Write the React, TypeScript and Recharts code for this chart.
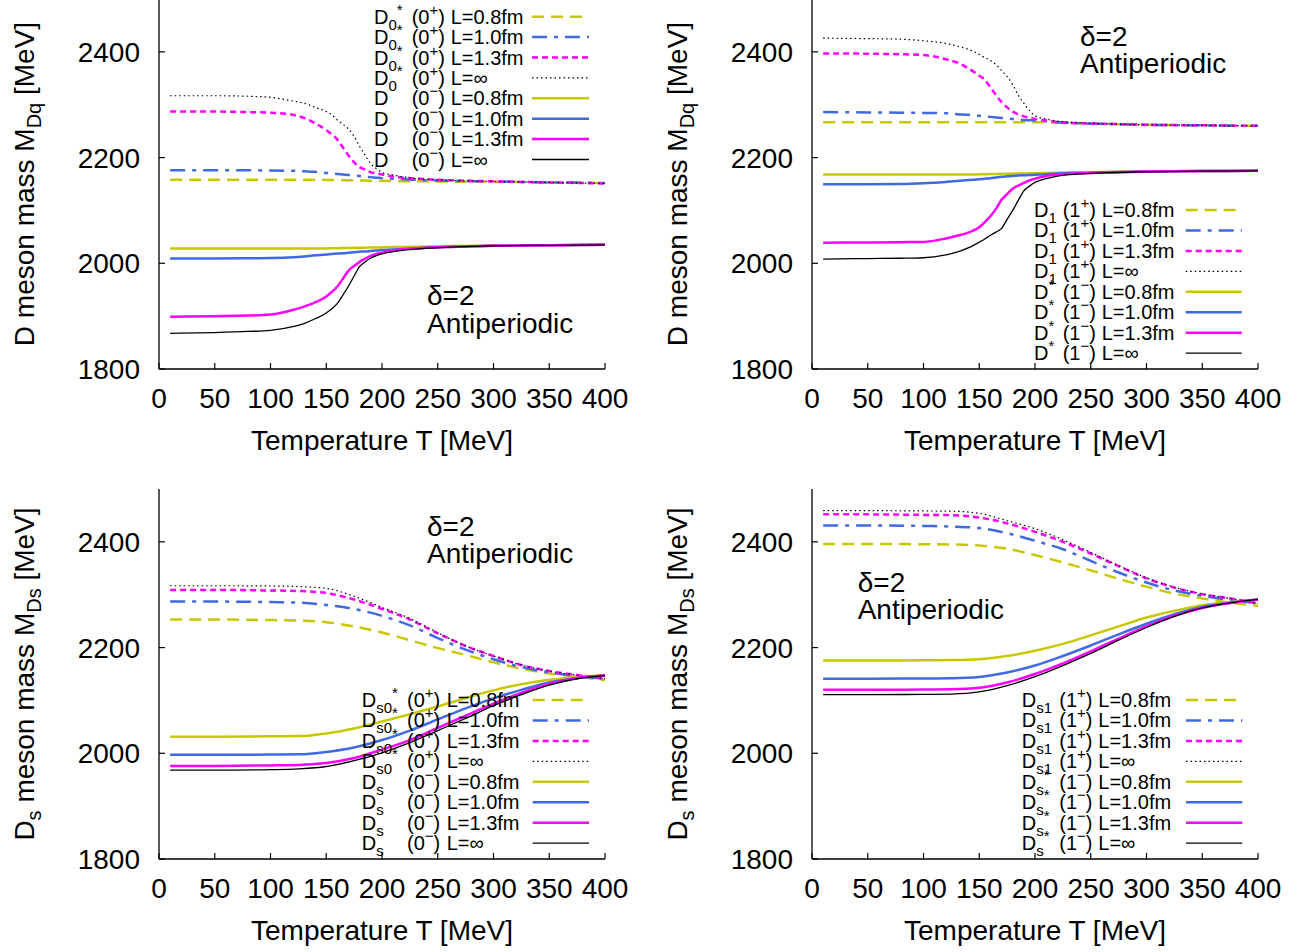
import React from 'react';
import { LineChart, Line, XAxis, YAxis, Legend, Customized } from 'recharts';

const FONT = '"Liberation Sans", Arial, Helvetica, sans-serif';

// ---------- data ----------
const xTicks = [0, 50, 100, 150, 200, 250, 300, 350, 400];
const yTicks = [1800, 2000, 2200, 2400];

// sharp-transition panels (D mesons)
const tempsSharp = [10, 50, 80, 100, 120, 130, 140, 150, 155, 160, 165, 170, 175, 180, 185, 190, 195, 200, 210, 220, 240, 260, 300, 350, 400];

// top-left: D0* (0+) and D (0-)
const d0pL08 = [2158, 2158, 2158, 2158, 2158, 2158, 2158, 2157.8, 2157.6, 2157.4, 2157.2, 2157, 2156.8, 2156.6, 2156.4, 2156.2, 2156, 2156, 2155.6, 2155.3, 2155, 2154.5, 2154, 2153, 2152];
const d0pL10 = [2176, 2176, 2176, 2175.5, 2175, 2174, 2173, 2171, 2170, 2169, 2168, 2167, 2166, 2165, 2164, 2163, 2162, 2161, 2160, 2159, 2157, 2156, 2155, 2153, 2152];
const d0pL13 = [2287, 2287, 2286, 2285, 2281, 2275, 2265, 2252, 2244, 2234, 2219, 2204, 2191, 2182, 2177, 2172, 2170, 2168, 2164, 2162, 2159, 2157, 2155, 2153, 2151];
const d0pInf = [2317, 2317, 2316, 2314, 2307, 2303, 2295, 2287, 2281, 2271, 2263, 2254, 2240, 2221, 2204, 2188, 2179, 2172, 2167, 2163, 2159, 2157, 2155, 2153, 2151];
const d0mL08 = [2028, 2028, 2028, 2028, 2028, 2028, 2028, 2028.2, 2028.4, 2028.6, 2028.8, 2029, 2029.2, 2029.4, 2029.6, 2029.8, 2030, 2030.2, 2030.6, 2031, 2031.8, 2032.5, 2033.5, 2034.3, 2035];
const d0mL10 = [2009, 2009, 2009.5, 2010, 2011.5, 2013, 2015, 2016.5, 2017.5, 2018.3, 2019, 2020, 2021, 2022, 2022.5, 2023.3, 2024, 2025, 2026, 2027, 2029.5, 2031, 2033, 2034, 2035];
const d0mL13 = [1899, 1900, 1901, 1903, 1911.6, 1918, 1926, 1937, 1946, 1956, 1971, 1986, 1995, 2003, 2009, 2014, 2017.6, 2020, 2024, 2027, 2029.5, 2031, 2033, 2034, 2035];
const d0mInf = [1867.5, 1869, 1871, 1873, 1880, 1886, 1895, 1906, 1914, 1924, 1940, 1957, 1976, 1994, 2003, 2010, 2014.5, 2018, 2022, 2025, 2028.5, 2030.5, 2033, 2034, 2035];

// top-right: D1 (1+) and D* (1-)
const d1pL08 = [2267, 2267, 2267, 2267, 2267, 2267, 2267, 2267, 2267, 2267, 2267, 2267, 2267, 2267, 2267, 2267, 2267, 2267, 2266.5, 2266, 2265, 2264, 2262, 2261, 2260];
const d1pL10 = [2286, 2285.5, 2285, 2284.5, 2284, 2282, 2281, 2279, 2278, 2277, 2276, 2275, 2274, 2273, 2272, 2271, 2270.5, 2270, 2268.5, 2267, 2265, 2264, 2262, 2261, 2260];
const d1pL13 = [2397, 2396.5, 2395.5, 2394, 2386, 2380, 2369, 2355, 2347, 2333, 2318, 2305, 2295, 2287, 2282, 2278, 2275, 2273, 2270, 2267, 2265, 2264, 2262, 2261, 2260];
const d1pInf = [2426, 2425, 2424, 2421, 2416, 2411, 2405, 2395, 2389, 2384, 2376, 2365, 2353, 2338, 2318, 2303, 2289, 2279, 2273, 2269, 2266, 2264, 2262, 2261, 2260];
const d1mL08 = [2168, 2168, 2168, 2168, 2168, 2168, 2168, 2168.3, 2168.5, 2168.7, 2169, 2169.2, 2169.4, 2169.6, 2169.8, 2170, 2170.2, 2170.4, 2170.8, 2171.2, 2172, 2172.8, 2174, 2174.6, 2175];
const d1mL10 = [2149.5, 2149.5, 2150, 2151.5, 2154, 2155.5, 2157.5, 2159, 2160, 2161, 2162.5, 2163.5, 2164.5, 2165.3, 2166, 2166.5, 2167, 2167.5, 2168.5, 2170, 2171, 2172, 2173.5, 2174.5, 2175];
const d1mL13 = [2039, 2039.5, 2040, 2040.5, 2047, 2052, 2058, 2068, 2078, 2089, 2103, 2120, 2131, 2141, 2147, 2152, 2157, 2160, 2165, 2168, 2170.5, 2172, 2173.5, 2174.5, 2175];
const d1mInf = [2008, 2009, 2009.5, 2010.5, 2016, 2021, 2029, 2040, 2046, 2053, 2059, 2066, 2083, 2100, 2119, 2137, 2146, 2153, 2160, 2165, 2169, 2171, 2173, 2174.5, 2175];

// smooth panels (Ds mesons)
const tempsSmooth = [10, 50, 100, 125, 150, 175, 200, 225, 250, 275, 300, 325, 350, 375, 400];

// bottom-left: Ds0* (0+) and Ds (0-)
const ds0pL08 = [2253, 2253, 2252, 2251, 2248, 2240, 2228.5, 2214, 2199, 2186, 2172, 2160, 2151, 2145, 2138];
const ds0pL10 = [2287, 2287, 2286, 2285, 2280.5, 2273, 2260, 2242, 2218, 2196, 2178, 2163, 2153, 2146, 2141];
const ds0pL13 = [2309, 2309, 2308, 2307, 2303, 2291, 2273, 2253, 2227, 2203, 2184, 2167, 2155.5, 2148, 2141];
const ds0pInf = [2317, 2317, 2316.5, 2315.5, 2312, 2297, 2276, 2255, 2228, 2203, 2184, 2167, 2155.5, 2148, 2141];
const ds0mL08 = [2031.5, 2031.5, 2032, 2032.5, 2037.5, 2047, 2060, 2074, 2088.5, 2104.5, 2119, 2130.5, 2139, 2144, 2148];
const ds0mL10 = [1997, 1997, 1997.5, 1998, 2002.5, 2011, 2025, 2043, 2064, 2085, 2104, 2120, 2134, 2142, 2147];
const ds0mL13 = [1976, 1976, 1977, 1978, 1981.5, 1991, 2007, 2025, 2048, 2071, 2094, 2114, 2131, 2143, 2147];
const ds0mInf = [1968, 1968, 1969, 1970.5, 1975, 1986, 2001, 2020, 2043, 2066, 2090, 2111, 2129, 2141, 2147];

// bottom-right: Ds1 (1+) and Ds* (1-)
const ds1pL08 = [2396, 2396, 2395.5, 2395, 2393, 2387, 2375, 2361, 2346, 2330, 2315, 2302, 2293, 2285, 2279];
const ds1pL10 = [2431, 2431, 2430, 2429, 2426, 2416.5, 2402, 2386, 2364, 2342, 2323, 2308, 2298, 2290, 2284];
const ds1pL13 = [2452, 2452, 2451, 2450.5, 2446, 2435, 2419, 2400, 2378, 2354, 2331, 2313.5, 2301, 2293, 2284];
const ds1pInf = [2459, 2459, 2458.5, 2458, 2454, 2440, 2425, 2404, 2380, 2355, 2332, 2314, 2301.5, 2293, 2284];
const ds1mL08 = [2175.5, 2175.5, 2176, 2176.3, 2178, 2184, 2194, 2207, 2223, 2240, 2257, 2269.5, 2280, 2286, 2290.6];
const ds1mL10 = [2141, 2141, 2141.5, 2142, 2144.5, 2153, 2166, 2184, 2204, 2225, 2245, 2263, 2277, 2285, 2291];
const ds1mL13 = [2120, 2120, 2120.5, 2121, 2124, 2134, 2150, 2170, 2193, 2217, 2240, 2260, 2275, 2284.5, 2291];
const ds1mInf = [2111, 2111, 2111.5, 2112, 2116, 2128, 2145, 2166, 2189, 2214, 2238, 2259, 2275, 2284.5, 2291];

const lLabels = ['L=0.8fm', 'L=1.0fm', 'L=1.3fm', 'L=∞'];

// ---------- styles ----------
const YEL = '#c8c800';
const BLU = '#4169e1';
const MAG = '#ff00ff';
const BLK = '#000000';

type Sty = { stroke: string; width: number; dash?: string };
const STYLES: Sty[] = [
  { stroke: YEL, width: 2.5, dash: '12 7' },
  { stroke: BLU, width: 2.5, dash: '15 7 4 7' },
  { stroke: MAG, width: 2.5, dash: '6 4' },
  { stroke: BLK, width: 1.2, dash: '1.5 3' },
  { stroke: YEL, width: 2.5 },
  { stroke: BLU, width: 2.5 },
  { stroke: MAG, width: 2.5 },
  { stroke: BLK, width: 1.3 },
];

type NameSpec = { base: string; sub?: string; sup?: string };
type PanelCfg = {
  left: number;
  top: number;
  temps: number[];
  values: number[][];
  plusName: NameSpec;
  minusName: NameSpec;
  digit: string;
  legend: { xName: number; xPar: number; xL: number; lx1: number; lx2: number; y0: number; dy: number };
  note: { x: number; y: number };
  strange: boolean;
};

const CH_W = 640;
const CH_H = 480;
const PLOT_L = 159;
const PLOT_T = 10;
const PLOT_W = 446;
const PLOT_H = 370;

function buildRows(temps: number[], values: number[][]) {
  return temps.map((t, i) => {
    const r: Record<string, number> = { T: t };
    values.forEach((arr, k) => {
      r['s' + k] = arr[i];
    });
    return r;
  });
}

function NameText({ x, y, n }: { x: number; y: number; n: NameSpec }) {
  return (
    <text x={x} y={y}>
      {n.base}
      {n.sub ? <tspan dy={6} fontSize={15}>{n.sub}</tspan> : null}
      {n.sup ? <tspan dy={n.sub ? -15 : -9} fontSize={15}>{n.sup}</tspan> : null}
    </text>
  );
}

function LegendBox({ cfg }: { cfg: PanelCfg }) {
  const g = cfg.legend;
  const rows = [];
  for (let i = 0; i < 8; i++) {
    const y = g.y0 + i * g.dy;
    const plus = i < 4;
    const st = STYLES[i];
    rows.push(
      <g key={i}>
        <NameText x={g.xName} y={y + 7} n={plus ? cfg.plusName : cfg.minusName} />
        <text x={g.xPar} y={y + 7}>
          ({cfg.digit}
          <tspan dy={-9} fontSize={15}>{plus ? '+' : '−'}</tspan>
          <tspan dy={9}>)</tspan>
        </text>
        <text x={g.xL} y={y + 7}>{lLabels[i % 4]}</text>
        <line x1={g.lx1} x2={g.lx2} y1={y} y2={y} stroke={st.stroke} strokeWidth={st.width} strokeDasharray={st.dash} />
      </g>
    );
  }
  return (
    <svg width={CH_W} height={CH_H} style={{ position: 'absolute', left: 0, top: 0, fontFamily: FONT, fontSize: 20, fill: '#000', overflow: 'visible' }}>
      {rows}
    </svg>
  );
}

function Notes({ cfg }: { cfg: PanelCfg }) {
  const cy = PLOT_T + PLOT_H / 2;
  const tx = 34;
  return (
    <g fontFamily={FONT} fill="#000" fontSize={28}>
      <text x={cfg.note.x} y={cfg.note.y}>δ=2</text>
      <text x={cfg.note.x} y={cfg.note.y + 27.6}>Antiperiodic</text>
      <text x={PLOT_L + PLOT_W / 2} y={PLOT_T + PLOT_H + 81} textAnchor="middle">Temperature T [MeV]</text>
      <text transform={`rotate(-90 ${tx} ${cy})`} x={tx} y={cy} textAnchor="middle">
        {cfg.strange ? (
          <>
            D<tspan dy={7} fontSize={20}>s</tspan>
            <tspan dy={-7}> meson mass M</tspan>
            <tspan dy={7} fontSize={20}>Ds</tspan>
            <tspan dy={-7}> [MeV]</tspan>
          </>
        ) : (
          <>
            D meson mass M<tspan dy={7} fontSize={20}>Dq</tspan>
            <tspan dy={-7}> [MeV]</tspan>
          </>
        )}
      </text>
    </g>
  );
}

const axisLine = { stroke: '#000', strokeWidth: 1.3 };
const tickLine = { stroke: '#000', strokeWidth: 1.2 };
const tickFont = { fill: '#000', fontSize: 28, fontFamily: FONT };

function Panel({ cfg }: { cfg: PanelCfg }) {
  const data = buildRows(cfg.temps, cfg.values);
  return (
    <div style={{ position: 'absolute', left: cfg.left, top: cfg.top }}>
      <LineChart
        width={CH_W}
        height={CH_H}
        data={data}
        margin={{ top: PLOT_T, right: CH_W - PLOT_L - PLOT_W, bottom: 10, left: 0 }}
        style={{ fontFamily: FONT }}
      >
        <XAxis
          dataKey="T"
          type="number"
          domain={[0, 400]}
          ticks={xTicks}
          interval={0}
          height={CH_H - PLOT_T - PLOT_H - 10}
          tickSize={-6}
          tickMargin={25}
          axisLine={axisLine}
          tickLine={tickLine}
          tick={tickFont}
        />
        <XAxis
          xAxisId="top"
          orientation="top"
          dataKey="T"
          type="number"
          domain={[0, 400]}
          ticks={xTicks}
          interval={0}
          height={0}
          tickSize={-6}
          axisLine={axisLine}
          tickLine={tickLine}
          tick={false}
        />
        <YAxis
          type="number"
          domain={[1800, 2500]}
          ticks={yTicks}
          interval={0}
          width={PLOT_L}
          tickSize={-6}
          tickMargin={25}
          axisLine={axisLine}
          tickLine={tickLine}
          tick={tickFont}
        />
        <YAxis
          yAxisId="right"
          orientation="right"
          type="number"
          domain={[1800, 2500]}
          ticks={yTicks}
          interval={0}
          width={0}
          tickSize={-6}
          axisLine={axisLine}
          tickLine={tickLine}
          tick={false}
        />
        {cfg.values.map((_, k) => (
          <Line
            key={k}
            dataKey={'s' + k}
            type="monotone"
            stroke={STYLES[k].stroke}
            strokeWidth={STYLES[k].width}
            strokeDasharray={STYLES[k].dash}
            dot={false}
            activeDot={false}
            isAnimationActive={false}
          />
        ))}
        <Legend
          layout="horizontal"
          verticalAlign="middle"
          align="center"
          wrapperStyle={{ left: 0, top: 0, width: CH_W, height: CH_H, pointerEvents: 'none' }}
          content={() => <LegendBox cfg={cfg} />}
        />
        <Customized component={() => <Notes cfg={cfg} />} />
      </LineChart>
    </div>
  );
}

const panels: PanelCfg[] = [
  {
    left: 0,
    top: -11,
    temps: tempsSharp,
    values: [d0pL08, d0pL10, d0pL13, d0pInf, d0mL08, d0mL10, d0mL13, d0mInf],
    plusName: { base: 'D', sub: '0', sup: '*' },
    minusName: { base: 'D' },
    digit: '0',
    legend: { xName: 374, xPar: 411.7, xL: 450.7, lx1: 532, lx2: 589, y0: 27.7, dy: 20.4 },
    note: { x: 427, y: 316 },
    strange: false,
  },
  {
    left: 653,
    top: -11,
    temps: tempsSharp,
    values: [d1pL08, d1pL10, d1pL13, d1pInf, d1mL08, d1mL10, d1mL13, d1mInf],
    plusName: { base: 'D', sub: '1' },
    minusName: { base: 'D', sup: '*' },
    digit: '1',
    legend: { xName: 381, xPar: 409.7, xL: 448.7, lx1: 532.7, lx2: 588.7, y0: 221, dy: 20.45 },
    note: { x: 427, y: 56.7 },
    strange: false,
  },
  {
    left: 0,
    top: 479,
    temps: tempsSmooth,
    values: [ds0pL08, ds0pL10, ds0pL13, ds0pInf, ds0mL08, ds0mL10, ds0mL13, ds0mInf],
    plusName: { base: 'D', sub: 's0', sup: '*' },
    minusName: { base: 'D', sub: 's' },
    digit: '0',
    legend: { xName: 361.7, xPar: 407, xL: 446.7, lx1: 532.7, lx2: 589, y0: 221, dy: 20.45 },
    note: { x: 427, y: 56.7 },
    strange: true,
  },
  {
    left: 653,
    top: 479,
    temps: tempsSmooth,
    values: [ds1pL08, ds1pL10, ds1pL13, ds1pInf, ds1mL08, ds1mL10, ds1mL13, ds1mInf],
    plusName: { base: 'D', sub: 's1' },
    minusName: { base: 'D', sub: 's', sup: '*' },
    digit: '1',
    legend: { xName: 368.7, xPar: 406.3, xL: 445.3, lx1: 533, lx2: 589.3, y0: 221, dy: 20.45 },
    note: { x: 204.7, y: 112.7 },
    strange: true,
  },
];

export default function App() {
  return (
    <div
      style={{
        position: 'absolute',
        left: 0,
        top: 0,
        width: 1312,
        height: 952,
        overflow: 'hidden',
        background: '#fff',
      }}
    >
      {panels.map((p, i) => (
        <Panel key={i} cfg={p} />
      ))}
    </div>
  );
}
